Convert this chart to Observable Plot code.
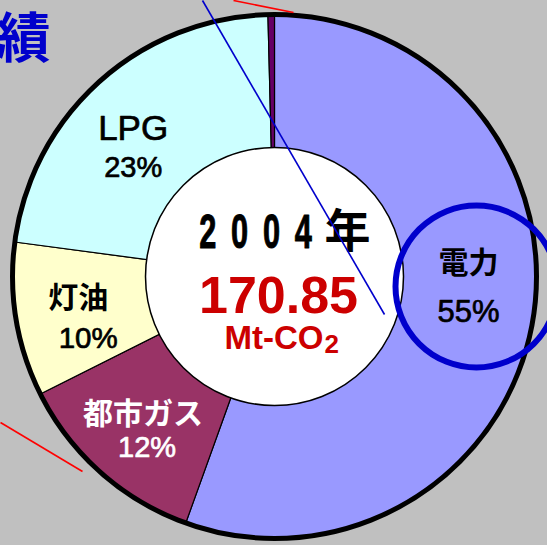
<!DOCTYPE html>
<html><head><meta charset="utf-8">
<script src="https://cdn.jsdelivr.net/npm/d3@7"></script>
<script src="https://cdn.jsdelivr.net/npm/@observablehq/plot@0.6"></script>
<style>html,body{margin:0;padding:0;background:#C0C0C0;overflow:hidden}</style>
</head><body><div id="chart"></div>
<script>
// ---- data ----
const categories = ["電力", "都市ガス", "灯油", "LPG", "その他"];
const shares = [55.5, 12.1, 9.5, 22.5, 0.4];
const pctLabels = ["55%", "12%", "10%", "23%", ""];
const yearDigits = "2004";
const yearSuffix = "年";
const totalValue = "170.85";
const totalUnit = "Mt-CO";
const unitSub = "2";
const titleTail = "績";

// ---- layout / style ----
const W = 547, H = 545, CX = 274, CY = 276, R = 262, R0 = 129, LR = 195;
const colors = ["#9999FF", "#993366", "#FFFFCC", "#CCFFFF", "#660066"];
const labelColors = ["#000", "#fff", "#000", "#000", "#000"];
const nameWeight = ["bold", "bold", "bold", "normal", "normal"];
const nameSize = [30, 30, 30, 35, 0];
const pctSize = [31, 29, 29.5, 29, 0];
const nameNudge = [[2, -47], [-2, -8], [-4, -10], [-11, -3], [0, 0]];
const pctNudge = [[2, 2], [2, 25], [6, 30], [-11, 36], [0, 0]];
const CJK = "Noto Sans CJK JP, sans-serif";
const LAT = "Liberation Sans, Arial, sans-serif";

// slices from data
let cum = 0;
const slices = categories.map((c, i) => {
  const a0 = cum / 100 * 2 * Math.PI; cum += shares[i];
  const a1 = cum / 100 * 2 * Math.PI;
  return {c, i, a0, a1, mid: (a0 + a1) / 2};
});
const px = (a, r) => CX + r * Math.sin(a);
const py = (a, r) => CY - r * Math.cos(a);
const wedge = s => {
  const pts = [{x: CX, y: CY}];
  const n = Math.max(2, Math.ceil((s.a1 - s.a0) / (Math.PI / 360)));
  for (let k = 0; k <= n; k++) {
    const a = s.a0 + (s.a1 - s.a0) * k / n;
    pts.push({x: px(a, R), y: py(a, R)});
  }
  pts.push({x: CX, y: CY});
  return pts;
};

const base = (b, fs) => b - 0.32 * fs; // baseline -> middle-anchored y

const nameData = slices.filter(s => nameSize[s.i] > 0).map(s => ({
  x: px(s.mid, LR) + nameNudge[s.i][0], y: py(s.mid, LR) + nameNudge[s.i][1], text: s.c, i: s.i
}));
const pctData = slices.filter(s => pctSize[s.i] > 0).map(s => ({
  x: px(s.mid, LR) + pctNudge[s.i][0], y: py(s.mid, LR) + pctNudge[s.i][1], text: pctLabels[s.i], i: s.i
}));

const guides = [
  {x1: 202, y1: 0, x2: 384, y2: 314, c: "#0000CC"},
  {x1: 233, y1: 0, x2: 293, y2: 12, c: "#FF0000"},
  {x1: 0, y1: 422, x2: 82, y2: 471, c: "#FF0000"}
];

const marks = [];
slices.forEach(s => marks.push(Plot.line(wedge(s), {x: "x", y: "y", fill: colors[s.i], stroke: "#000", strokeWidth: 1.2, curve: "linear"})));
marks.push(Plot.dot([{x: CX, y: CY}], {x: "x", y: "y", r: R, fill: "none", stroke: "#000", strokeWidth: 5}));
marks.push(Plot.dot([{x: CX, y: CY}], {x: "x", y: "y", r: R0, fill: "white", stroke: "#000", strokeWidth: 1.5}));
nameData.forEach(d => marks.push(Plot.text([d], {x: "x", y: "y", text: "text", fontFamily: d.text === "LPG" ? LAT : CJK, fontSize: nameSize[d.i], fontWeight: nameWeight[d.i], fill: labelColors[d.i], stroke: labelColors[d.i], strokeWidth: d.text === "LPG" ? 0.7 : 0})));
pctData.forEach(d => marks.push(Plot.text([d], {x: "x", y: "y", text: "text", fontFamily: LAT, fontSize: pctSize[d.i], fill: labelColors[d.i], stroke: labelColors[d.i], strokeWidth: 0.7})));
// center texts
marks.push(Plot.text([{x: 199, y: base(247, 48), t: yearDigits}], {x: "x", y: "y", text: "t", textAnchor: "start", fontFamily: LAT, fontWeight: "bold", fontSize: 48, fill: "#000", stroke: "#000", strokeWidth: 1}));
marks.push(Plot.text([{x: 347, y: base(246, 46), t: yearSuffix}], {x: "x", y: "y", text: "t", fontFamily: CJK, fontWeight: "bold", fontSize: 46, fill: "#000"}));
marks.push(Plot.text([{x: 278, y: base(312, 52), t: totalValue}], {x: "x", y: "y", text: "t", fontFamily: LAT, fontWeight: "bold", fontSize: 52, fill: "#CC0000"}));
marks.push(Plot.text([{x: 323, y: base(348, 33), t: totalUnit}], {x: "x", y: "y", text: "t", textAnchor: "end", fontFamily: LAT, fontWeight: "bold", fontSize: 33, fill: "#CC0000"}));
marks.push(Plot.text([{x: 324, y: base(352, 26), t: unitSub}], {x: "x", y: "y", text: "t", textAnchor: "start", fontFamily: LAT, fontWeight: "bold", fontSize: 26, fill: "#CC0000"}));
// highlight circle and guides
marks.push(Plot.dot([{x: 476, y: 286}], {x: "x", y: "y", r: 81, fill: "none", stroke: "#0000CC", strokeWidth: 6}));
marks.push(Plot.link(guides, {x1: "x1", y1: "y1", x2: "x2", y2: "y2", stroke: "c", strokeWidth: 1.6}));
// title fragment
marks.push(Plot.text([{x: 50, y: base(57, 54), t: titleTail}], {x: "x", y: "y", text: "t", textAnchor: "end", fontFamily: CJK, fontWeight: "bold", fontSize: 54, fill: "#0000CC"}));

const chart = Plot.plot({
  width: W, height: H, margin: 0,
  x: {domain: [0, W], range: [0, W], axis: null},
  y: {domain: [0, H], range: [0, H], axis: null},
  style: {background: "#C0C0C0"},
  marks
});
document.getElementById("chart").appendChild(chart);

// condense the year digits like the original narrow font
const yt = Array.from(chart.querySelectorAll("text")).find(t => t.textContent === yearDigits);
if (yt) {
  const g = yt.closest("g");
  const wrap = document.createElementNS("http://www.w3.org/2000/svg", "g");
  g.parentNode.insertBefore(wrap, g);
  wrap.appendChild(g);
  const x0 = 199;
  wrap.setAttribute("transform", `translate(${x0},0) scale(0.64,1) translate(${-x0},0)`);
  yt.style.letterSpacing = "23px";
}
</script></body></html>
